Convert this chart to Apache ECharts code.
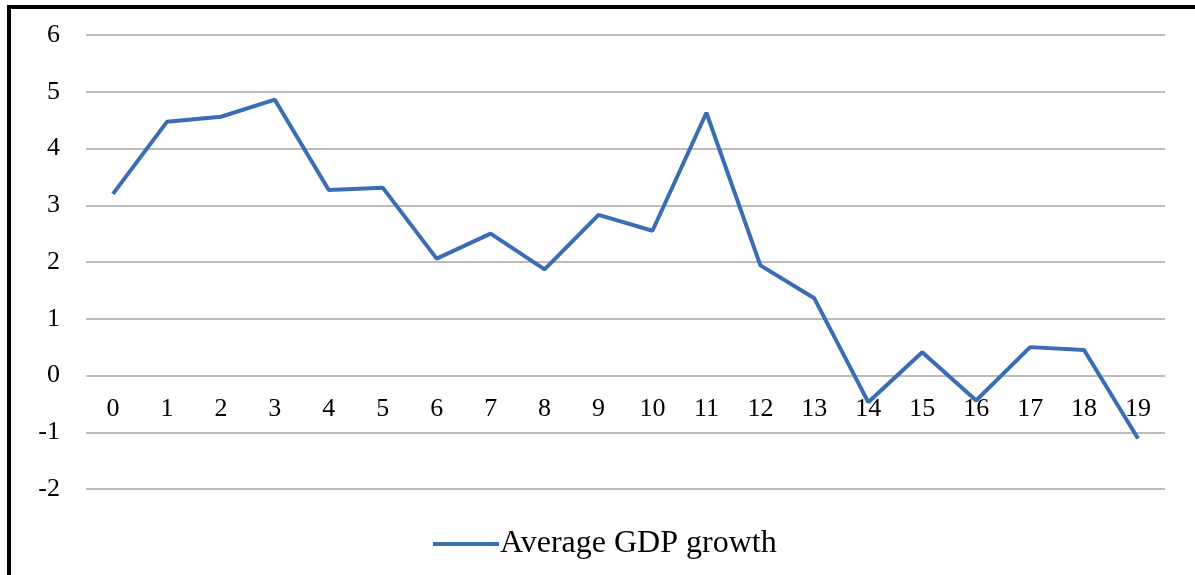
<!DOCTYPE html>
<html>
<head>
<meta charset="utf-8">
<script src="https://cdn.jsdelivr.net/npm/echarts@6/dist/echarts.min.js"></script>
<style>
  html, body { margin: 0; padding: 0; background: #fff; }
  #wrap { position: relative; width: 1195px; height: 575px; overflow: hidden; }
  #chart { position: absolute; left: 0; top: 0; width: 1195px; height: 575px; }
  #bt { position: absolute; left: 7px; top: 5px; width: 1188px; height: 4px; background: #000; }
  #bl { position: absolute; left: 7px; top: 5px; width: 4px; height: 570px; background: #000; }
</style>
</head>
<body>
<div id="wrap">
  <div id="chart"></div>
  <div id="bt"></div>
  <div id="bl"></div>
</div>
<script>
const categories = ['0','1','2','3','4','5','6','7','8','9','10','11','12','13','14','15','16','17','18','19'];
const gdpGrowth = [3.2, 4.47, 4.56, 4.86, 3.27, 3.31, 2.06, 2.5, 1.87, 2.83, 2.55, 4.63, 1.94, 1.36, -0.47, 0.41, -0.44, 0.5, 0.45, -1.11];
const seriesName = 'Average GDP growth';

const chart = echarts.init(document.getElementById('chart'));
const serif = '"Liberation Serif", "DejaVu Serif", serif';
chart.setOption({
  animation: false,
  backgroundColor: '#fff',
  grid: { left: 86, right: 30, top: 35, bottom: 86, containLabel: false },
  legend: {
    data: [seriesName],
    left: 428,
    top: 523,
    itemWidth: 66,
    itemHeight: 4,
    itemGap: 0,
    icon: 'rect',
    textStyle: { fontFamily: serif, fontSize: 32, color: '#000', padding: [0,0,0,-4] }
  },
  xAxis: {
    type: 'category',
    data: categories,
    boundaryGap: true,
    offset: -114,
    axisLine: { show: false, onZero: false },
    axisTick: { show: false },
    axisLabel: { fontFamily: serif, fontSize: 26, color: '#000', margin: 21 },
    splitLine: { show: false }
  },
  yAxis: {
    type: 'value',
    min: -2, max: 6, interval: 1,
    axisLine: { show: false },
    axisTick: { show: false },
    axisLabel: { fontFamily: serif, fontSize: 26, color: '#000', margin: 26 },
    splitLine: { lineStyle: { color: '#a6a6a6', width: 1.5 } }
  },
  series: [{
    name: seriesName,
    type: 'line',
    data: gdpGrowth,
    symbol: 'none',
    lineStyle: { color: '#3a6db4', width: 4 },
    itemStyle: { color: '#3a6db4' }
  }]
});
</script>
</body>
</html>
